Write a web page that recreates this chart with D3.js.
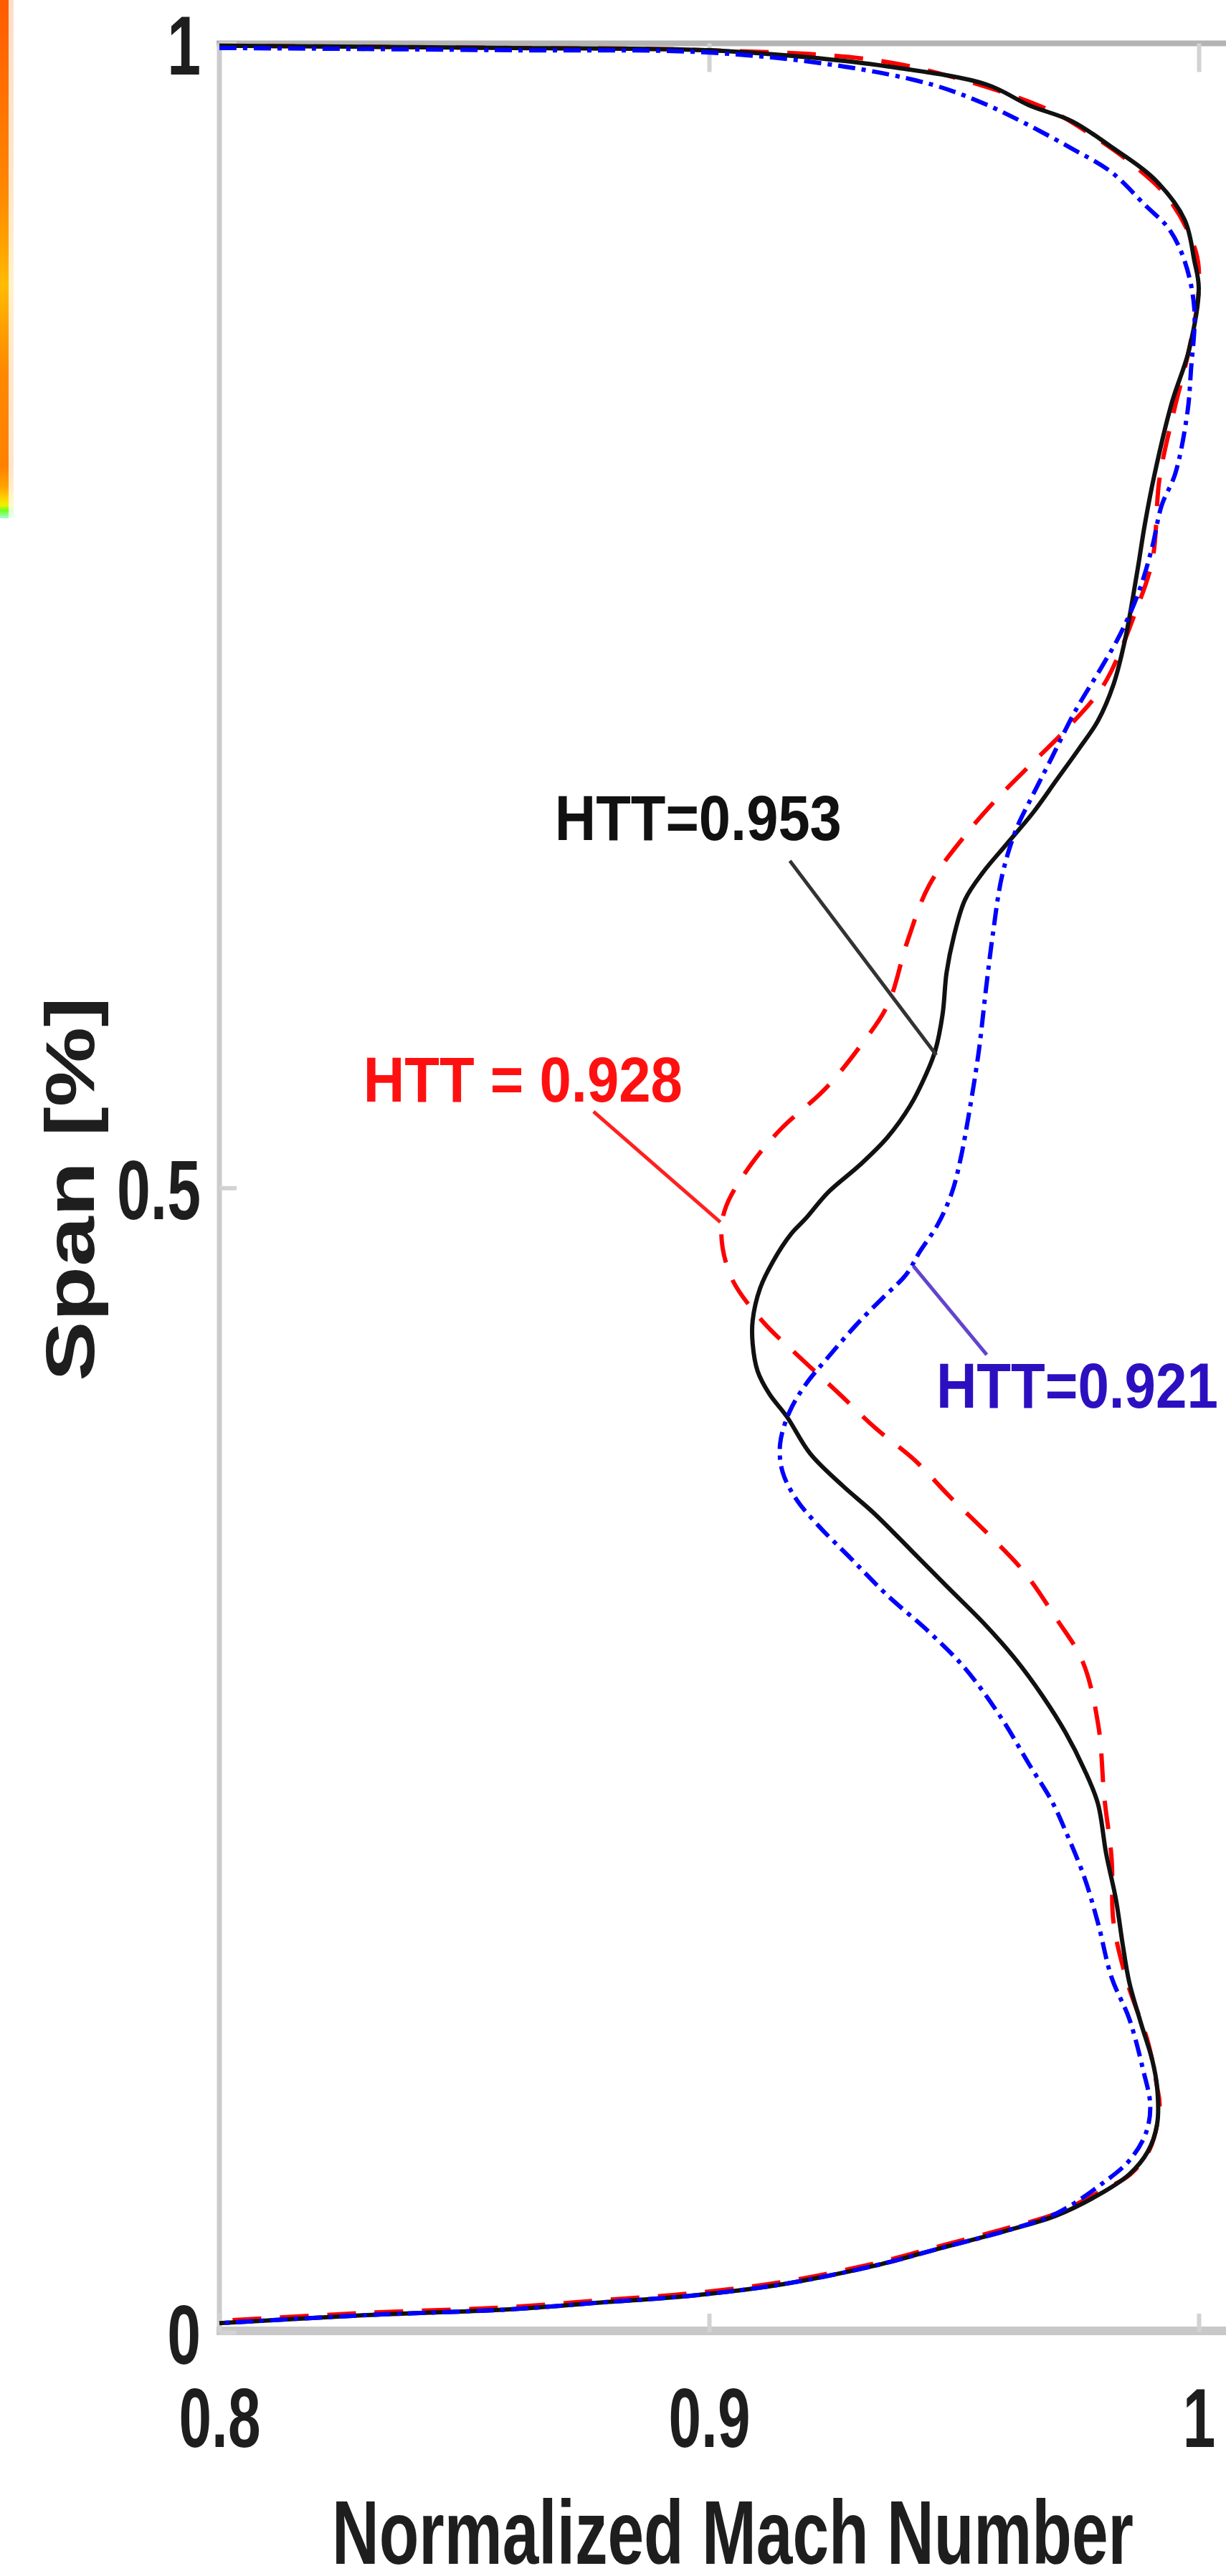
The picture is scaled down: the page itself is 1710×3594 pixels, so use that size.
<!DOCTYPE html>
<html lang="en">
<head>
<meta charset="UTF-8">
<title>Normalized Mach Number vs Span</title>
<script src="https://d3js.org/d3.v7.min.js"></script>
<style>
    body { margin: 0; background: #fff; }
    svg text { font-family: "Liberation Sans", Arial, sans-serif; font-weight: bold; }
</style>
</head>
<body>
<svg id="chart" width="1710" height="3594"></svg>
<script>
// axis ticks and titles
var xTicks = [0.8, 0.9, 1];
var yTicks = [0, 0.5, 1];
var xTitle = "Normalized Mach Number";
var yTitle = "Span [%]";

// [mach, span]
var htt953 = [[0.800,0.999],[0.860,0.998],[0.900,0.997],[0.920,0.994],[0.9363,0.990],[0.9567,0.982],[0.9653,0.973],
    [0.9741,0.966],[0.982,0.955],[0.9908,0.941],[0.9971,0.923],[0.9991,0.905],[1.000,0.893],[0.998,0.866],[0.9945,0.843],
    [0.991,0.812],[0.989,0.790],[0.9875,0.770],[0.985,0.740],[0.9826,0.720],[0.9794,0.704],[0.9756,0.692],[0.9709,0.678],
    [0.9662,0.664],[0.9607,0.650],[0.956,0.638],[0.9523,0.626],[0.950,0.610],[0.9485,0.594],[0.9477,0.576],[0.9462,0.560],
    [0.9444,0.550],[0.9411,0.536],[0.9364,0.522],[0.9308,0.510],[0.9243,0.498],[0.9197,0.4865],[0.9168,0.480],[0.9131,0.468],
    [0.9104,0.456],[0.9089,0.442],[0.9089,0.432],[0.9099,0.420],[0.9123,0.410],[0.9159,0.400],[0.9206,0.384],[0.9272,0.370],
    [0.9336,0.358],[0.9411,0.342],[0.9485,0.326],[0.956,0.310],[0.9626,0.294],[0.9681,0.278],[0.9728,0.262],[0.9766,0.246],
    [0.9794,0.231],[0.9811,0.209],[0.9831,0.189],[0.9845,0.169],[0.9858,0.153],[0.9882,0.135],[0.9905,0.119],[0.9915,0.107],
    [0.9915,0.091],[0.9896,0.079],[0.9858,0.069],[0.9803,0.061],[0.9709,0.051],[0.9617,0.045],[0.9477,0.037],[0.9336,0.029],
    [0.915,0.021],[0.8963,0.016],[0.8778,0.013],[0.8591,0.010],[0.830,0.0075],[0.800,0.004]];

var htt928 = [[0.800,0.999],[0.860,0.998],[0.900,0.997],[0.9328,0.993],[0.9511,0.9845],[0.9693,0.971],[0.9781,0.960],
    [0.986,0.948],[0.9939,0.932],[0.9994,0.909],[1.000,0.893],[0.998,0.866],[0.995,0.840],[0.992,0.810],
    [0.9905,0.774],[0.9868,0.750],[0.9822,0.726],[0.9794,0.716],[0.9728,0.700],[0.9662,0.686],[0.9588,0.670],[0.9523,0.654],
    [0.9449,0.632],[0.9404,0.607],[0.9365,0.580],[0.9309,0.562],[0.9236,0.543],[0.9148,0.526],[0.9085,0.510],[0.9035,0.492],
    [0.9025,0.480],[0.9045,0.461],[0.9108,0.442],[0.918,0.427],[0.9261,0.411],[0.934,0.395],[0.942,0.381],[0.9492,0.365],
    [0.9571,0.3485],[0.9644,0.332],[0.9707,0.3125],[0.9763,0.293],[0.9795,0.265],[0.9807,0.234],[0.9822,0.207],[0.9826,0.179],
    [0.9854,0.153],[0.9896,0.127],[0.9915,0.107],[0.992,0.099],[0.990,0.080],[0.986,0.069],[0.9803,0.062],[0.971,0.052],
    [0.9617,0.046],[0.9477,0.038],[0.9336,0.030],[0.915,0.022],[0.8963,0.017],[0.8778,0.014],[0.8591,0.011],[0.830,0.0085],
    [0.800,0.005]];

var htt921 = [[0.800,0.998],[0.860,0.997],[0.900,0.996],[0.9272,0.990],[0.9455,0.982],[0.9558,0.974],[0.9646,0.965],
    [0.9741,0.954],[0.982,0.944],[0.9892,0.929],[0.9939,0.919],[0.9971,0.905],[0.9991,0.884],[0.9984,0.857],
    [0.9977,0.839],[0.9952,0.812],[0.9924,0.798],[0.9905,0.780],[0.9877,0.760],[0.984,0.742],[0.9803,0.728],[0.9747,0.708],
    [0.970,0.688],[0.9662,0.672],[0.9626,0.656],[0.9598,0.636],[0.9579,0.610],[0.9565,0.586],[0.9551,0.560],[0.9532,0.534],
    [0.9513,0.512],[0.9496,0.498],[0.9467,0.484],[0.943,0.472],[0.9402,0.462],[0.9355,0.452],[0.930,0.440],[0.9243,0.426],
    [0.9197,0.414],[0.9164,0.402],[0.9145,0.388],[0.915,0.376],[0.9178,0.364],[0.9225,0.352],[0.929,0.338],[0.9364,0.322],
    [0.9449,0.306],[0.9523,0.290],[0.9598,0.268],[0.9654,0.248],[0.970,0.232],[0.9728,0.219],[0.9766,0.199],[0.9794,0.179],
    [0.9822,0.155],[0.9858,0.137],[0.9886,0.115],[0.9901,0.099],[0.9892,0.087],[0.9858,0.075],[0.9803,0.065],[0.971,0.052],
    [0.9617,0.045],[0.9477,0.037],[0.9336,0.029],[0.915,0.021],[0.8963,0.016],[0.8778,0.013],[0.8591,0.010],[0.830,0.0075],
    [0.800,0.004]];

// text labels, their anchor (data units) and the leader line from label to curve
var noteText = ["HTT=0.953", "HTT = 0.928", "HTT=0.921"];
var notePos = [[0.8685, 0.652], [0.8294, 0.5377], [0.9464, 0.404]];
var noteFrom = [[0.9165, 0.6429], [0.8764, 0.5333], [0.9567, 0.4271]];
var noteTo = [[0.9464, 0.558], [0.9023, 0.485], [0.9417, 0.4659]];

var W = 1710, H = 3594;
var svg = d3.select("#chart");

var x = d3.scaleLinear().domain([0.8, 1]).range([306, 1672]);
var y = d3.scaleLinear().domain([0, 1]).range([3254, 60.5]);

// squeeze text horizontally like the stretched original
function squeeze(sel, k) {
    sel.each(function() {
        var w = this.getComputedTextLength();
        d3.select(this).attr("textLength", w * k).attr("lengthAdjust", "spacingAndGlyphs");
    });
}

// piece of a colour bar from the neighbouring figure, cut at the left edge
var grad = svg.append("defs").append("linearGradient")
    .attr("id", "cbar").attr("x1", 0).attr("y1", 0).attr("x2", 0).attr("y2", 1);
[[0, "#ff5a00"], [0.14, "#ff6c00"], [0.35, "#ff8400"], [0.48, "#ffa400"], [0.55, "#ffbc00"],
 [0.63, "#ffa000"], [0.72, "#ff8800"], [0.9, "#ff8000"], [0.94, "#ffa400"], [0.96, "#ffd000"],
 [0.975, "#f0f000"], [0.985, "#70ff20"], [1, "#a0ffd0"]].forEach(function(s) {
    grad.append("stop").attr("offset", s[0]).attr("stop-color", s[1]);
});
svg.append("rect").attr("x", 0).attr("y", 0).attr("width", 12).attr("height", 723).attr("fill", "url(#cbar)");
svg.append("rect").attr("x", 12).attr("y", 0).attr("width", 7).attr("height", 723)
    .attr("fill", "url(#cbar)").attr("opacity", 0.2);

// frame
svg.append("line").attr("x1", x(0.8) - 4).attr("x2", W).attr("y1", y(1)).attr("y2", y(1))
    .attr("stroke", "#b4b4b4").attr("stroke-width", 8);
svg.append("line").attr("x1", x(0.8)).attr("x2", x(0.8)).attr("y1", y(1)).attr("y2", y(0))
    .attr("stroke", "#cccccc").attr("stroke-width", 7);
svg.append("line").attr("x1", x(0.8) - 4).attr("x2", W).attr("y1", y(0) - 2).attr("y2", y(0) - 2)
    .attr("stroke", "#c8c8c8").attr("stroke-width", 12);

// axes
var gx = svg.append("g").attr("transform", "translate(0," + y(0) + ")")
    .call(d3.axisBottom(x).tickValues(xTicks).tickSizeInner(-26).tickSizeOuter(0)
        .tickPadding(77).tickFormat(d3.format("~g")));
var gy = svg.append("g").attr("transform", "translate(" + x(0.8) + ",0)")
    .call(d3.axisLeft(y).tickValues(yTicks).tickSizeInner(-24).tickSizeOuter(0)
        .tickPadding(26).tickFormat(d3.format("~g")));
var gt = svg.append("g").attr("transform", "translate(0," + y(1) + ")")
    .call(d3.axisTop(x).tickValues([0.9, 1]).tickSizeInner(-40).tickSizeOuter(0).tickFormat(""));

[gx, gy, gt].forEach(function(g) {
    g.select(".domain").remove();
    g.selectAll(".tick line").attr("stroke", "#d2d2d2").attr("stroke-width", 6);
    g.selectAll(".tick text").attr("font-size", 117).attr("fill", "#1e1e1e");
});
gy.selectAll(".tick text").attr("dy", "0.37em");
squeeze(gx.selectAll(".tick text"), 0.7);
squeeze(gy.selectAll(".tick text"), 0.72);

// curves
var line = d3.line().x(function(d) { return x(d[0]); }).y(function(d) { return y(d[1]); })
    .curve(d3.curveCatmullRom.alpha(0.5));

svg.append("path").datum(htt928).attr("d", line).attr("fill", "none")
    .attr("stroke", "#ff0000").attr("stroke-width", 6).attr("stroke-dasharray", "40,26");
svg.append("path").datum(htt953).attr("d", line).attr("fill", "none")
    .attr("stroke", "#111111").attr("stroke-width", 6);
svg.append("path").datum(htt921).attr("d", line).attr("fill", "none")
    .attr("stroke", "#0000ff").attr("stroke-width", 6).attr("stroke-dasharray", "24,9,6,9");

// annotations
var noteColor = ["#111111", "#ff1010", "#2c10c0"];
var leaderColor = ["#333333", "#ff2020", "#6244cc"];
var noteWidth = [400, 445, 393];

noteText.forEach(function(t, i) {
    svg.append("line")
        .attr("x1", x(noteFrom[i][0])).attr("y1", y(noteFrom[i][1]))
        .attr("x2", x(noteTo[i][0])).attr("y2", y(noteTo[i][1]))
        .attr("stroke", leaderColor[i]).attr("stroke-width", 5);
    svg.append("text")
        .attr("x", x(notePos[i][0])).attr("y", y(notePos[i][1]))
        .attr("font-size", 89).attr("fill", noteColor[i])
        .attr("textLength", noteWidth[i]).attr("lengthAdjust", "spacingAndGlyphs")
        .text(t);
});

// axis titles
svg.append("text").attr("x", 1022).attr("y", 3577).attr("text-anchor", "middle")
    .attr("font-size", 127).attr("fill", "#1e1e1e")
    .attr("textLength", 1118).attr("lengthAdjust", "spacingAndGlyphs")
    .text(xTitle);
svg.append("text").attr("transform", "translate(131,1659) rotate(-90)").attr("text-anchor", "middle")
    .attr("font-size", 97).attr("fill", "#1e1e1e")
    .attr("textLength", 536).attr("lengthAdjust", "spacingAndGlyphs")
    .text(yTitle);
</script>
</body>
</html>
